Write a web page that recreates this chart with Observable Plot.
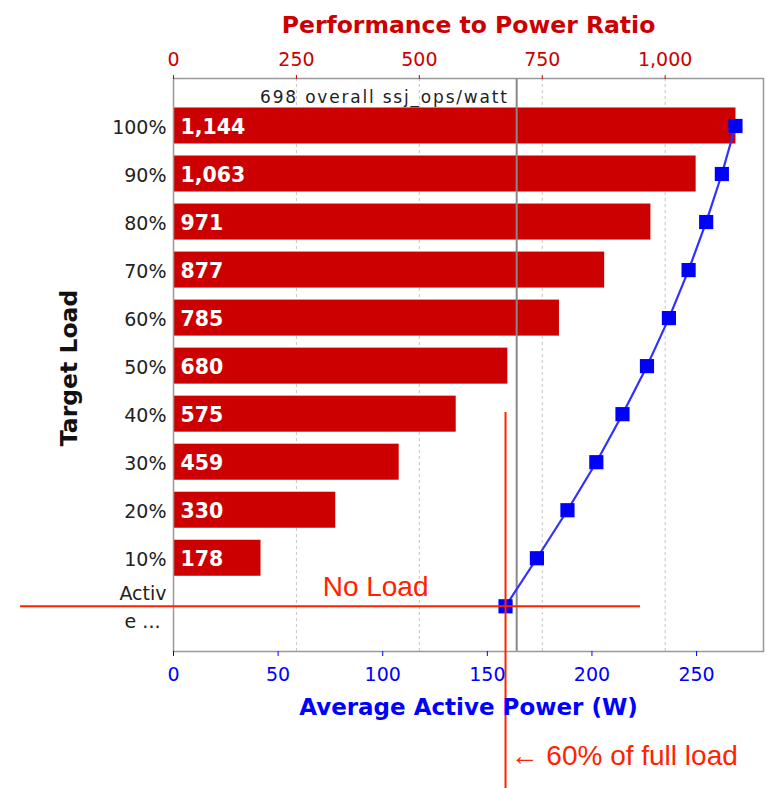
<!DOCTYPE html>
<html>
<head>
<meta charset="utf-8">
<script src="https://cdn.jsdelivr.net/npm/d3@7"></script>
<script src="https://cdn.jsdelivr.net/npm/@observablehq/plot@0.6"></script>
<style>
  body { margin: 0; background: #fff; }
  #chart svg { display: block; }
</style>
</head>
<body>
<div id="chart"></div>
<script>
// ---- data ----
const loads = ["100%", "90%", "80%", "70%", "60%", "50%", "40%", "30%", "20%", "10%", "Active Idle"];
const loadTickLabels = ["100%", "90%", "80%", "70%", "60%", "50%", "40%", "30%", "20%", "10%", "Activ\ne ...\u00a0"];
const ssjOpsPerWatt = [1144, 1063, 971, 877, 785, 680, 575, 459, 330, 178]; // 100% .. 10%
const avgPowerW = [268.6, 262.1, 254.6, 246.2, 236.8, 226.3, 214.6, 202.1, 188.3, 173.7, 158.7]; // 100% .. Active Idle
const overallSsjOpsPerWatt = 698;
const ratioTicks = [0, 250, 500, 750, 1000];
const powerTicks = [0, 50, 100, 150, 200, 250];
const ratioDomain = [0, 1200];
const powerDomain = [0, 282];
const idleLoad = "Active Idle";
const annotationNoLoad = "No Load";
const annotationFullLoad = "\u2190 60% of full load";

// ---- derived tables ----
const wattToRatio = ratioDomain[1] / powerDomain[1];
const bars = ssjOpsPerWatt.map((v, i) => ({load: loads[i], ratio: v}));
const points = avgPowerW.map((w, i) => ({load: loads[i], power: w}));
const idle = points.find(d => d.load === idleLoad);

const RED = "#cc0000";
const BLUE = "#0000ff";
const ANN = "#ff2200";

const chart = Plot.plot({
  width: 767,
  height: 788,
  marginLeft: 173,
  marginRight: 4,
  marginTop: 78,
  marginBottom: 137,
  style: {fontFamily: "'DejaVu Sans', sans-serif", background: "#fff", overflow: "visible"},
  x: {domain: ratioDomain},
  y: {domain: loads, type: "band", paddingInner: 0.25, paddingOuter: 0.59, align: 0.52, round: false},
  marks: [
    Plot.gridX(ratioTicks.filter(d => d > 0), {stroke: "#c4c4c4", strokeOpacity: 1, strokeDasharray: "3,3"}),
    Plot.barX(bars, {x: "ratio", y: "load", fill: RED}),
    Plot.text(bars, {y: "load", frameAnchor: "left", text: d => d3.format(",")(d.ratio), textAnchor: "start",
      dx: 7, dy: 1, fill: "white", fontWeight: "bold", fontSize: 20.5}),
    Plot.ruleX([overallSsjOpsPerWatt], {x: d => d, stroke: "#888", strokeWidth: 2}),
    Plot.text([overallSsjOpsPerWatt], {x: d => d, frameAnchor: "top", text: d => `${d} overall ssj_ops/watt`,
      textAnchor: "end", lineAnchor: "bottom", dx: -8, dy: 24, fontSize: 17, fill: "#222"}),
    Plot.frame({stroke: "#999", strokeWidth: 1.5}),
    Plot.line(points, {x: d => d.power * wattToRatio, y: "load", stroke: "#3030ff", strokeWidth: 2.2}),
    Plot.dot(points, {x: d => d.power * wattToRatio, y: "load", symbol: "square", r: 8, fill: BLUE, stroke: "none"}),
    // annotations
    Plot.ruleY([idleLoad], {y: d => d, stroke: ANN, strokeWidth: 2, insetLeft: -153, insetRight: 123}),
    Plot.ruleX([idle], {x: d => d.power * wattToRatio, stroke: ANN, strokeWidth: 2, insetTop: 334, insetBottom: -137}),
    Plot.text([idle], {x: d => d.power * wattToRatio, y: "load", text: () => annotationNoLoad, textAnchor: "end",
      lineAnchor: "bottom", dx: -77, dy: -10, fontSize: 28, fill: ANN, fontFamily: "'Liberation Sans', Arial, sans-serif"}),
    Plot.text([idle], {x: d => d.power * wattToRatio, y: "load", text: () => annotationFullLoad, textAnchor: "start",
      lineAnchor: "bottom", dx: 5, dy: 159, fontSize: 28, fill: ANN, fontFamily: "'Liberation Sans', Arial, sans-serif"}),
    // axes
    Plot.axisX(ratioTicks, {anchor: "top", tickFormat: d3.format(","), tickSize: 4, tickPadding: 9, fontSize: 19,
      stroke: RED, fill: RED, color: RED, label: null}),
    Plot.axisX(powerTicks.map(w => w * wattToRatio), {anchor: "bottom", tickFormat: d => String(Math.round(d / wattToRatio)),
      tickSize: 5, tickPadding: 11, fontSize: 19, stroke: BLUE, fill: BLUE, color: BLUE, label: null}),
    Plot.axisY({tickSize: 0, tickPadding: 7, fontSize: 19, fill: "#222", color: "#222", lineHeight: 1.47, dy: -1,
      tickFormat: d => loadTickLabels[loads.indexOf(d)], label: null}),
    // titles
    Plot.text(["Performance to Power Ratio"], {text: d => d, frameAnchor: "top", lineAnchor: "bottom", dy: -46,
      fontSize: 23.5, fontWeight: "bold", fill: RED}),
    Plot.text(["Average Active Power (W)"], {text: d => d, frameAnchor: "bottom", lineAnchor: "bottom", dy: 63,
      fontSize: 23, fontWeight: "bold", fill: BLUE}),
    Plot.text(["Target Load"], {text: d => d, frameAnchor: "left", textAnchor: "middle", lineAnchor: "middle",
      rotate: -90, dx: -104, dy: 3, fontSize: 23.5, fontWeight: "bold", fill: "#111"})
  ]
});

// letter spacing for the overall score label
chart.querySelectorAll("text").forEach(t => {
  if (t.textContent.includes("overall ssj_ops")) t.setAttribute("letter-spacing", "1.8");
});

document.getElementById("chart").appendChild(chart);
</script>
</body>
</html>
